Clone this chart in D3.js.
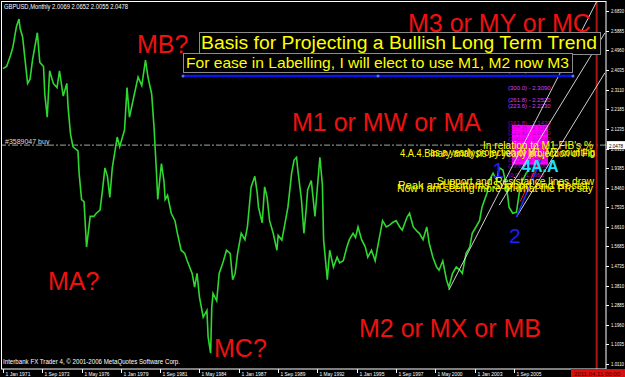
<!DOCTYPE html>
<html>
<head>
<meta charset="utf-8">
<script src="https://cdn.jsdelivr.net/npm/d3@7"></script>
<style>
  html, body { margin: 0; padding: 0; background: #000; }
  svg { display: block; }
  text { font-family: "Liberation Sans", Arial, sans-serif; }
</style>
</head>
<body>
<svg id="chart" width="625" height="377"></svg>
<script>
// GBPUSD monthly, values (swing points)
const months = [
  "1971-01","1971-04","1971-07","1971-09","1971-12","1972-02","1972-03","1972-05","1972-09","1972-11",
  "1973-01","1973-05","1973-07","1973-10","1973-11","1974-01","1974-03","1974-06","1974-09","1974-11",
  "1975-02","1975-05","1975-06","1975-08","1975-10","1976-02","1976-03","1976-05","1976-07","1976-09",
  "1976-12","1977-03","1977-05","1977-08","1977-10","1977-12","1978-02","1978-04","1978-06","1978-10",
  "1978-12","1979-04","1979-06","1979-08","1979-12","1980-03","1980-06","1980-09","1980-11","1981-02",
  "1981-04","1981-06","1981-07","1981-10","1981-12","1982-01","1982-03","1982-06","1982-09","1982-11",
  "1983-02","1983-05","1983-07","1983-11","1984-01","1984-03","1984-05","1984-08","1984-11","1984-12",
  "1985-02","1985-03","1985-04","1985-07","1985-09","1985-12","1986-03","1986-06","1986-08","1986-10",
  "1986-12","1987-03","1987-06","1987-08","1987-11","1988-02","1988-04","1988-05","1988-08","1988-10",
  "1988-12","1989-02","1989-05","1989-08","1989-09","1989-12","1990-02","1990-05","1990-08","1990-10",
  "1990-12","1991-01","1991-04","1991-06","1991-08","1991-09","1991-12","1992-03","1992-05","1992-07",
  "1992-09","1992-10","1993-01","1993-03","1993-06","1993-09","1993-11","1994-02","1994-05","1994-07",
  "1994-10","1994-12","1995-02","1995-05","1995-08","1995-10","1996-01","1996-04","1996-06","1996-10",
  "1997-01","1997-04","1997-06","1997-09","1997-12","1998-02","1998-06","1998-08","1998-11","1999-02",
  "1999-04","1999-07","1999-10","1999-12","2000-03","2000-06","2000-08","2000-11","2001-02","2001-04",
  "2001-07","2001-10","2002-01","2002-03","2002-06","2002-09","2002-11","2003-02","2003-05","2003-07",
  "2003-11","2004-01","2004-04","2004-07","2004-09","2004-12","2005-03","2005-05","2005-08","2005-11",
  "2006-02","2006-04","2006-07","2006-10"
];
const closes = [
  2.41, 2.42, 2.47, 2.51, 2.61, 2.645, 2.60, 2.56, 2.34, 2.36,
  2.45, 2.58, 2.44, 2.42, 2.29, 2.18, 2.40, 2.34, 2.32, 2.40,
  2.28, 2.34, 2.23, 2.10, 2.04, 2.02, 1.915, 1.79, 1.78, 1.565,
  1.71, 1.71, 1.725, 1.74, 1.835, 1.94, 1.90, 1.80, 1.94, 2.086,
  2.04, 2.12, 2.32, 2.18, 2.29, 2.37, 2.33, 2.45, 2.37, 2.29,
  2.13, 1.915, 1.79, 1.96, 1.88, 1.79, 1.81, 1.725, 1.69, 1.63,
  1.55, 1.535, 1.50, 1.44, 1.375, 1.44, 1.327, 1.233, 1.265, 1.138,
  1.062, 1.28, 1.345, 1.31, 1.44, 1.49, 1.55, 1.535, 1.41, 1.44,
  1.535, 1.63, 1.60, 1.66, 1.85, 1.90, 1.82, 1.754, 1.68, 1.85,
  1.80, 1.69, 1.63, 1.55, 1.62, 1.598, 1.66, 1.754, 1.915, 1.977,
  1.99, 1.93, 1.79, 1.63, 1.754, 1.835, 1.88, 1.71, 1.85, 1.99,
  1.86, 1.60, 1.41, 1.55, 1.47, 1.517, 1.49, 1.50, 1.565, 1.60,
  1.63, 1.61, 1.66, 1.60, 1.565, 1.517, 1.55, 1.50, 1.565, 1.69,
  1.66, 1.67, 1.68, 1.69, 1.66, 1.645, 1.707, 1.725, 1.66, 1.64,
  1.63, 1.60, 1.66, 1.583, 1.517, 1.47, 1.455, 1.50, 1.41, 1.375,
  1.44, 1.47, 1.455, 1.44, 1.535, 1.565, 1.63, 1.66, 1.69, 1.754,
  1.82, 1.882, 1.915, 1.88, 1.94, 1.93, 1.85, 1.754, 1.725, 1.73,
  1.85, 1.88, 1.915, 1.94
];

const priceTicks = [2.6830, 2.5885, 2.4960, 2.4035, 2.3110, 2.2185, 2.1235, 2.0310, 1.9385, 1.8460,
  1.7535, 1.6610, 1.5685, 1.4735, 1.3810, 1.2885, 1.1960, 1.1035, 1.0110];
const dateTicks = ["1 Jan 1971", "1 Sep 1973", "1 May 1976", "1 Jan 1979", "1 Sep 1981", "1 May 1984",
  "1 Jan 1987", "1 Sep 1989", "1 May 1992", "1 Jan 1995", "1 Sep 1997", "1 May 2000", "1 Jan 2003", "1 Sep 2005"];

const lastPrice = 2.0478;
const orderPrice = 2.0478;
const markerDate = "2011-04-11";

// trend channel lines: [start month, start price, end month, end price]
const channelStart = ["2001-04", "2004-09", "2005-11"];
const channelStartPrice = [1.361, 1.764, 1.707];
const channelEnd = ["2011-05", "2011-11", "2011-11"];
const channelEndPrice = [2.735, 2.579, 2.39];

// fibo levels
const fibRatios = ["423.6", "300.0", "261.8", "223.6", "161.8", "138.2", "123.6", "100.0", "76.4", "61.8", "50.0", "38.2", "23.6", "0.0"];
const fibPrices = [2.389, 2.309, 2.252, 2.223, 2.143, 2.118, 2.098, 2.068, 2.036, 2.012, 1.990, 1.970, 1.940, 1.895];

const parseMonth = d3.timeParse("%Y-%m");
const parseTick = d3.timeParse("%d %b %Y");

const svg = d3.select("#chart");
const W = 625, H = 377;
const plotRight = 606, plotBottom = 369;

svg.append("rect").attr("width", W).attr("height", H).attr("fill", "#000");

const x = d3.scaleTime()
  .domain([new Date(1971, 0, 1), new Date(2005, 8, 1)])
  .range([3, 514]);
const y = d3.scaleLinear()
  .domain([1.0110, 2.6830])
  .range([364, 11]);

svg.append("clipPath").attr("id", "plot")
  .append("rect").attr("x", 1).attr("y", 1).attr("width", plotRight - 1).attr("height", plotBottom - 1);

const g = svg.append("g").attr("clip-path", "url(#plot)");

// order line
g.append("line")
  .attr("x1", 0).attr("x2", plotRight)
  .attr("y1", y(orderPrice)).attr("y2", y(orderPrice))
  .attr("stroke", "#9aa89a").attr("stroke-width", 1)
  .attr("stroke-dasharray", "6,2,2,2");
g.append("text").attr("x", 5).attr("y", y(orderPrice) - 1)
  .attr("fill", "#dddddd").attr("font-size", 7).text("#3589047 buy");

// marker vertical line
const markerX = x(d3.timeParse("%Y-%m-%d")(markerDate));
g.append("line")
  .attr("x1", markerX).attr("x2", markerX)
  .attr("y1", 0).attr("y2", plotBottom)
  .attr("stroke", "#b01515").attr("stroke-width", 2);

// price line
const pts = months.map((m, i) => ({ d: parseMonth(m), v: closes[i] }));
g.append("path")
  .datum(pts)
  .attr("fill", "none")
  .attr("stroke", "#2fd82f")
  .attr("stroke-width", 1.6)
  .attr("stroke-linejoin", "miter")
  .attr("d", d3.line().x(d => x(d.d)).y(d => y(d.v)));

// fibo labels and block
g.append("rect")
  .attr("x", 512).attr("y", y(2.143)).attr("width", 36).attr("height", y(1.955) - y(2.143))
  .attr("fill", "#ff00ff");
fibRatios.forEach((r, i) => {
  g.append("text")
    .attr("x", 508).attr("y", y(fibPrices[i]))
    .attr("fill", i < 4 ? "#d040ff" : "#b000b0")
    .attr("font-size", 6)
    .text("(" + r + ") - " + fibPrices[i].toFixed(4));
});

// trend channel
channelStart.forEach((s, i) => {
  g.append("line")
    .attr("x1", x(parseMonth(s))).attr("y1", y(channelStartPrice[i]))
    .attr("x2", x(parseMonth(channelEnd[i]))).attr("y2", y(channelEndPrice[i]))
    .attr("stroke", "#e8e8e8").attr("stroke-width", 0.9);
});
// small coloured lines from the 2005 low
g.append("line")
  .attr("x1", x(parseMonth("2005-11"))).attr("y1", y(1.707))
  .attr("x2", x(parseMonth("2007-10"))).attr("y2", y(2.02))
  .attr("stroke", "#2030ff").attr("stroke-width", 1.5);
g.append("line")
  .attr("x1", x(parseMonth("2006-02"))).attr("y1", y(1.78))
  .attr("x2", x(parseMonth("2007-12"))).attr("y2", y(2.05))
  .attr("stroke", "#ff2020").attr("stroke-width", 1);

// red wave labels
const red = "#ee1111";
[["MB?", 137, 53], ["MA?", 48, 290], ["MC?", 214, 357], ["M1 or MW or MA", 292, 131],
 ["M2 or MX or MB", 359, 337], ["M3 or MY or MC", 408, 32]].forEach(t => {
  g.append("text").attr("x", t[1]).attr("y", t[2])
    .attr("fill", red).attr("font-size", 25).text(t[0]);
});

// boxed yellow notes
g.append("rect").attr("x", 199.5).attr("y", 32.5).attr("width", 401).attr("height", 22)
  .attr("fill", "#000").attr("stroke", "#8c8c8c");
g.append("text").attr("x", 201).attr("y", 49).attr("fill", "#ffff00").attr("font-size", 18)
  .attr("textLength", 396).attr("lengthAdjust", "spacingAndGlyphs")
  .text("Basis for Projecting a Bullish Long Term Trend");
g.append("rect").attr("x", 183.5).attr("y", 53.5).attr("width", 389).attr("height", 19)
  .attr("fill", "#000").attr("stroke", "#8c8c8c");
g.append("text").attr("x", 186).attr("y", 68).attr("fill", "#ffff00").attr("font-size", 15)
  .attr("textLength", 383).attr("lengthAdjust", "spacingAndGlyphs")
  .text("For ease in Labelling,  I will elect to use M1, M2 now M3");

// blue level line
g.append("line").attr("x1", 183).attr("x2", 573).attr("y1", y(2.375)).attr("y2", y(2.375))
  .attr("stroke", "#0a14e6").attr("stroke-width", 2.5);
[183, 378, 573].forEach(px => {
  g.append("circle").attr("cx", px).attr("cy", y(2.375)).attr("r", 1.5).attr("fill", "#6070ff");
});

// blue / cyan counts
g.append("text").attr("x", 492).attr("y", 178).attr("fill", "#1e1eff").attr("font-size", 22).text("1");
g.append("text").attr("x", 509).attr("y", 243).attr("fill", "#1e1eff").attr("font-size", 21).text("2");
g.append("text").attr("x", 522).attr("y", 172).attr("fill", "#22e0ff").attr("font-size", 16)
  .attr("font-weight", "bold").text("4A.A");

// overlapping yellow notes
const notes = [
  ["In relation to M1 FIB's %", 483, 149, 110],
  ["4.A.4.Binary analysis by yearly projection of Fib", 400, 157, 195],
  ["as a yearly projection of M1, M2 counting", 430, 156, 165],
  ["Support and Resistance lines draw", 437, 185, 157],
  ["Peak and Bottoms Support and Resist", 398, 189, 190],
  ["Now I am seeing more of what the Pro say", 397, 192, 196]
];
notes.forEach(n => {
  g.append("text").attr("x", n[1]).attr("y", n[2])
    .attr("fill", "#ffff00").attr("font-size", 11)
    .attr("textLength", n[3]).attr("lengthAdjust", "spacingAndGlyphs")
    .text(n[0]);
});

// header / footer text
g.append("text").attr("x", 4).attr("y", 9).attr("fill", "#fff").attr("font-size", 7)
  .attr("textLength", 124).attr("lengthAdjust", "spacingAndGlyphs")
  .text("GBPUSD,Monthly  2.0069 2.0652 2.0055 2.0478");
g.append("text").attr("x", 3).attr("y", 364).attr("fill", "#fff").attr("font-size", 6.5)
  .attr("textLength", 177).attr("lengthAdjust", "spacingAndGlyphs")
  .text("Interbank FX Trader 4, \u00a9 2001-2006 MetaQuotes Software Corp.");

// frame
svg.append("rect").attr("x", 1.5).attr("y", 1.5).attr("width", plotRight - 1.5).attr("height", plotBottom - 1.5)
  .attr("fill", "none").attr("stroke", "#ffffff").attr("stroke-width", 1);

// right price axis
priceTicks.forEach(v => {
  svg.append("line").attr("x1", plotRight).attr("x2", plotRight + 3)
    .attr("y1", Math.round(y(v)) + 0.5).attr("y2", Math.round(y(v)) + 0.5).attr("stroke", "#fff");
  svg.append("text").attr("x", 611).attr("y", y(v) + 2).attr("fill", "#fff").attr("font-size", 6)
    .attr("textLength", 13).attr("lengthAdjust", "spacingAndGlyphs")
    .text(v.toFixed(4));
});
svg.append("rect").attr("x", 607).attr("y", y(lastPrice) - 4).attr("width", 18).attr("height", 8).attr("fill", "#fff");
svg.append("text").attr("x", 609).attr("y", y(lastPrice) + 2.5).attr("fill", "#000").attr("font-size", 6)
  .attr("textLength", 14).attr("lengthAdjust", "spacingAndGlyphs").text(lastPrice.toFixed(4));

// bottom date axis
dateTicks.forEach(s => {
  const px = Math.round(x(parseTick(s))) + 0.5;
  svg.append("line").attr("x1", px).attr("x2", px).attr("y1", plotBottom).attr("y2", plotBottom + 4).attr("stroke", "#fff");
  svg.append("text").attr("x", px + 2).attr("y", 376).attr("fill", "#fff").attr("font-size", 6)
    .attr("textLength", 25).attr("lengthAdjust", "spacingAndGlyphs").text(s);
});
svg.append("rect").attr("x", 571).attr("y", 369).attr("width", 54).attr("height", 8).attr("fill", "#d81010");
svg.append("text").attr("x", 574).attr("y", 375.5).attr("fill", "#500000").attr("font-size", 6)
  .attr("textLength", 46).attr("lengthAdjust", "spacingAndGlyphs").text("2011.04.11 00:00");
</script>
</body>
</html>
